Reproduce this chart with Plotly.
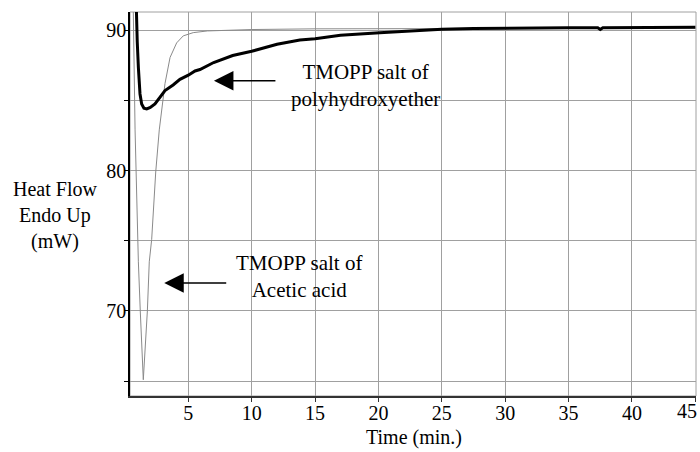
import plotly.graph_objects as go

# Acetic acid salt (thin curve)
acetic_t = [0.55, 0.66, 0.80, 0.875, 1.01, 1.06, 1.21, 1.45, 1.77, 1.92, 2.11, 2.43, 2.71,
            2.95, 3.16, 3.56, 4.08, 4.6, 5.39, 6.5, 8, 10, 15, 20, 25, 30, 35, 40, 45]
acetic_v = [95, 91.3, 82.9, 79.9, 75.1, 73.5, 70.0, 65.1, 70.0, 73.5, 75.1, 79.9, 82.9,
            84.8, 86.2, 88.06, 89.1, 89.6, 89.83, 89.95, 90.0, 90.05, 90.1, 90.1, 90.12,
            90.12, 90.12, 90.15, 90.15]

# Polyhydroxyether salt (thick curve)
poly_t = [0.8, 0.88, 0.97, 1.06, 1.19, 1.32, 1.5, 1.72, 2.0, 2.37, 2.77, 3.16, 3.8, 4.34,
          5.0, 5.53, 5.92, 7.0, 8.5, 10, 12, 13.8, 15, 17, 20.1, 22.5, 25, 27.5, 30, 32.5,
          35, 37.3, 37.5, 37.7, 40, 42.5, 45]
poly_v = [95, 91.3, 89.2, 87.35, 85.46, 84.75, 84.45, 84.4, 84.5, 84.75, 85.2, 85.7, 86.1,
          86.5, 86.8, 87.1, 87.2, 87.7, 88.2, 88.5, 89.0, 89.3, 89.4, 89.65, 89.83, 89.95,
          90.07, 90.12, 90.15, 90.15, 90.18, 90.18, 90.06, 90.18, 90.2, 90.2, 90.22]

x_ticks = [5, 10, 15, 20, 25, 30, 35, 40, 45]
x_ticktext = ["5", "10", "15", "20", "25", "30", "35", "40", ""]
x_last_label = "45"
y_ticks = [65, 70, 75, 80, 85, 90]
y_ticktext = ["", "70", "", "80", "", "90"]

FONT = "Liberation Serif, Times New Roman, DejaVu Serif, serif"

fig = go.Figure()
fig.add_trace(go.Scatter(x=acetic_t, y=acetic_v, mode="lines",
                         line=dict(color="#8a8a8a", width=1), showlegend=False))
fig.add_trace(go.Scatter(x=poly_t, y=poly_v, mode="lines",
                         line=dict(color="#000000", width=3), showlegend=False))

fig.update_layout(
    width=700, height=452,
    margin=dict(l=130, r=4, t=12, b=56),
    paper_bgcolor="white", plot_bgcolor="white",
    font=dict(family=FONT, size=20, color="black"),
    xaxis=dict(range=[0.4, 45.05], tickvals=x_ticks, ticktext=x_ticktext, showgrid=True,
               gridcolor="#a0a0a0", gridwidth=1, showline=True, linecolor="#333333",
               linewidth=2, ticks="outside", ticklen=4, tickcolor="#333333", zeroline=False,
               ticklabelstandoff=-6, ticklabeloverflow="allow", automargin=False),
    yaxis=dict(range=[63.94, 91.3], tickvals=y_ticks, ticktext=y_ticktext, showgrid=True,
               gridcolor="#a0a0a0", gridwidth=1, showline=True, linecolor="black",
               linewidth=1.5, ticks="outside", ticklen=4, tickcolor="black", zeroline=False,
               ticklabelstandoff=-6, automargin=False),
    shapes=[dict(type="rect", xref="paper", yref="paper", x0=0, x1=1, y0=0, y1=1,
                 line=dict(color="#a0a0a0", width=1), layer="below")],
    annotations=[
        dict(text=x_last_label, x=x_ticks[-1], xref="x", yref="paper", y=-0.039,
             showarrow=False, xanchor="right", yanchor="middle", xshift=4,
             font=dict(size=20)),
        dict(text="Heat Flow<br>Endo Up<br>(mW)", xref="paper", yref="paper",
             x=-0.1325, y=0.469, showarrow=False, xanchor="center", yanchor="middle",
             font=dict(size=20)),
        dict(text="Time (min.)", xref="paper", yref="paper", x=0.502, y=-0.107,
             showarrow=False, xanchor="center", yanchor="middle", font=dict(size=20)),
        dict(text="TMOPP salt of<br>polyhydroxyether", x=19.0, y=86.05, showarrow=False,
             xanchor="center", yanchor="middle", font=dict(size=21)),
        dict(text="TMOPP salt of<br>Acetic acid", x=13.72, y=72.48, showarrow=False,
             xanchor="center", yanchor="middle", font=dict(size=21)),
        dict(x=7.02, y=86.4, ax=11.99, ay=86.4, axref="x", ayref="y", text="",
             showarrow=True, arrowhead=2, arrowsize=2.6, arrowwidth=1.5, arrowcolor="black"),
        dict(x=3.10, y=71.99, ax=8.11, ay=71.99, axref="x", ayref="y", text="",
             showarrow=True, arrowhead=2, arrowsize=2.6, arrowwidth=1.5, arrowcolor="black"),
    ],
)

fig.write_html("out.html", config={"displayModeBar": False},
               post_script="document.body.style.margin='0';document.body.style.overflow='hidden';")
